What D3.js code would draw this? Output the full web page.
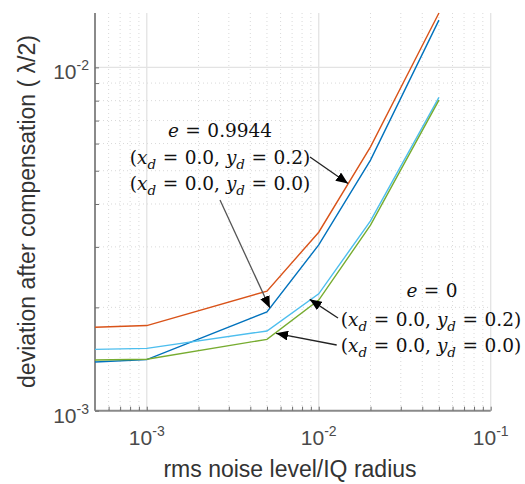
<!DOCTYPE html>
<html>
<head>
<meta charset="utf-8">
<script src="https://cdn.jsdelivr.net/npm/d3@7"></script>
<style>
  html, body { margin: 0; padding: 0; background: #fff; }
  svg { display: block; }
  text { white-space: pre; }
</style>
</head>
<body>
<svg id="chart" width="525" height="484"></svg>
<script>
// rms noise level / IQ radius (x) and residual deviation in units of lambda/2 (y)
const noise = [5e-4, 1e-3, 5e-3, 1e-2, 2e-2, 5e-2];
const devEccY02 = [1.75e-3, 1.77e-3, 2.23e-3, 3.31e-3, 5.87e-3, 1.44e-2];   // e = 0.9944, yd = 0.2
const devEccY00 = [1.386e-3, 1.408e-3, 1.94e-3, 3.04e-3, 5.37e-3, 1.373e-2]; // e = 0.9944, yd = 0.0
const devCircY02 = [1.509e-3, 1.519e-3, 1.707e-3, 2.19e-3, 3.57e-3, 8.18e-3]; // e = 0, yd = 0.2
const devCircY00 = [1.405e-3, 1.412e-3, 1.614e-3, 2.10e-3, 3.47e-3, 8.03e-3]; // e = 0, yd = 0.0

const xMajorTicks = [1e-3, 1e-2, 1e-1];
const xTickExponents = ["-3", "-2", "-1"];
const yMajorTicks = [1e-3, 1e-2];
const yTickExponents = ["-3", "-2"];

const xLabel = "rms noise level/IQ radius";
const yLabel = "deviation after compensation ( \u03bb/2)";

// arrow tips (data coordinates) for the callouts
const arrowTips = [
  [0.0148, 4.59e-3],
  [5.2e-3, 1.99e-3],
  [8.86e-3, 2.11e-3],
  [5.65e-3, 1.68e-3]
];

const series = [
  { values: devEccY02, color: "#D95319" },
  { values: devEccY00, color: "#0072BD" },
  { values: devCircY02, color: "#4DBEEE" },
  { values: devCircY00, color: "#77AC30" }
];

const plotLeft = 95, plotRight = 490.7, plotTop = 13, plotBottom = 410.7;
const x = d3.scaleLog().domain([5e-4, 1e-1]).range([plotLeft, plotRight]);
const y = d3.scaleLog().domain([1e-3, 0.0144]).range([plotBottom, plotTop]);

const svg = d3.select("#chart");

// minor/major positions
const xMinor = [];
[1e-4, 1e-3, 1e-2].forEach(dec => { for (let k = 2; k <= 9; k++) { const v = dec * k; if (v >= 5e-4 && v <= 1e-1) xMinor.push(v); } });
const yMinor = [];
[1e-3, 1e-2].forEach(dec => { for (let k = 2; k <= 9; k++) { const v = dec * k; if (v <= 0.0144) yMinor.push(v); } });

// grid
const grid = svg.append("g");
grid.selectAll(".gxm").data(xMinor).join("line")
  .attr("x1", d => x(d)).attr("x2", d => x(d)).attr("y1", plotTop).attr("y2", plotBottom)
  .attr("stroke", "#d9d9d9").attr("stroke-width", 1).attr("stroke-dasharray", "1,3");
grid.selectAll(".gym").data(yMinor).join("line")
  .attr("y1", d => y(d)).attr("y2", d => y(d)).attr("x1", plotLeft).attr("x2", plotRight)
  .attr("stroke", "#d9d9d9").attr("stroke-width", 1).attr("stroke-dasharray", "1,3");
grid.selectAll(".gxM").data(xMajorTicks).join("line")
  .attr("x1", d => x(d)).attr("x2", d => x(d)).attr("y1", plotTop).attr("y2", plotBottom)
  .attr("stroke", "#e3e3e3").attr("stroke-width", 1.3);
grid.selectAll(".gyM").data(yMajorTicks.filter(v => v > 1e-3)).join("line")
  .attr("y1", d => y(d)).attr("y2", d => y(d)).attr("x1", plotLeft).attr("x2", plotRight)
  .attr("stroke", "#e3e3e3").attr("stroke-width", 1.3);

// axes (log scales, inward ticks)
const xAxis = d3.axisTop(x).tickValues(xMinor.concat(xMajorTicks)).tickSize(4).tickFormat("");
const yAxis = d3.axisRight(y).tickValues(yMinor.concat(yMajorTicks)).tickSize(4).tickFormat("");
const gx = svg.append("g").attr("transform", `translate(0,${plotBottom})`).call(xAxis);
const gy = svg.append("g").attr("transform", `translate(${plotLeft},0)`).call(yAxis);
[gx, gy].forEach(g => {
  g.select(".domain").attr("stroke", "#8a8a8a").attr("stroke-width", 2);
  g.selectAll(".tick line").attr("stroke", "#6e6e6e").attr("stroke-width", 1);
});
gx.select(".domain").attr("d", `M${plotLeft},0H${plotRight}`);
gy.select(".domain").attr("d", `M0,${plotTop}V${plotBottom}`);

// tick labels: 10^n
const tickFont = "'Liberation Sans', Arial, sans-serif";
xMajorTicks.forEach((v, i) => {
  const t = svg.append("text").attr("x", x(v)).attr("y", plotBottom + 34)
    .attr("text-anchor", "middle").attr("font-family", tickFont).attr("font-size", 21).attr("fill", "#4a4a4a");
  t.append("tspan").text("10");
  t.append("tspan").attr("dy", -9).attr("font-size", 14).text(xTickExponents[i]);
});
yMajorTicks.forEach((v, i) => {
  const t = svg.append("text").attr("x", plotLeft - 6).attr("y", y(v) + 12)
    .attr("text-anchor", "end").attr("font-family", tickFont).attr("font-size", 21).attr("fill", "#4a4a4a");
  t.append("tspan").text("10");
  t.append("tspan").attr("dy", -9).attr("font-size", 14).text(yTickExponents[i]);
});

// axis titles
svg.append("text").attr("x", 290).attr("y", 477).attr("text-anchor", "middle")
  .attr("font-family", tickFont).attr("font-size", 23).attr("fill", "#333").text(xLabel);
svg.append("text").attr("transform", "translate(35,211.5) rotate(-90)").attr("text-anchor", "middle")
  .attr("font-family", tickFont).attr("font-size", 23).attr("fill", "#333").text(yLabel);

// data lines
const line = d3.line().x((d, i) => x(noise[i])).y(d => y(d));
svg.append("g").selectAll("path").data(series).join("path")
  .attr("d", d => line(d.values)).attr("fill", "none")
  .attr("stroke", d => d.color).attr("stroke-width", 1.4);

// callout text (math-style: italic symbols, subscripts, spaced relations)
const mathFont = "'DejaVu Serif', 'Liberation Serif', serif";
const relGap = 6.5;
function mathLine(cx, baseline, parts) {
  const t = svg.append("text").attr("x", cx).attr("y", baseline).attr("text-anchor", "middle")
    .attr("font-family", mathFont).attr("font-size", 18.5).attr("fill", "#111");
  parts.forEach(p => {
    const s = t.append("tspan").text(p.t);
    if (p.i) s.attr("font-style", "italic");
    if (p.sub) s.attr("dy", 5).attr("font-size", 13.5);
    if (p.up) s.attr("dy", -5);
    if (p.gap) s.attr("dx", relGap);
  });
  return t;
}
function coordLine(cx, baseline, ydVal) {
  return mathLine(cx, baseline, [
    { t: "(" }, { t: "x", i: true }, { t: "d", i: true, sub: true },
    { t: "=", up: true, gap: true }, { t: "0.0, ", gap: true },
    { t: "y", i: true }, { t: "d", i: true, sub: true },
    { t: "=", up: true, gap: true }, { t: ydVal + ")", gap: true }
  ]);
}
mathLine(220, 137, [{ t: "e", i: true }, { t: "=", gap: true }, { t: "0.9944", gap: true }]);
coordLine(220, 164, "0.2");
coordLine(220, 190, "0.0");
mathLine(432, 297, [{ t: "e", i: true }, { t: "=", gap: true }, { t: "0", gap: true }]);
coordLine(431, 326, "0.2");
coordLine(431, 352, "0.0");

// arrows
const defs = svg.append("defs");
defs.append("marker").attr("id", "head").attr("viewBox", "0 0 12 10")
  .attr("refX", 12).attr("refY", 5).attr("markerWidth", 12).attr("markerHeight", 10)
  .attr("markerUnits", "userSpaceOnUse").attr("orient", "auto")
  .append("path").attr("d", "M0,0L12,5L0,10Z").attr("fill", "#000");
const arrowStarts = [[310, 157], [220, 200], [338, 318], [336.7, 345]];
svg.append("g").selectAll("line").data(arrowTips).join("line")
  .attr("x1", (d, i) => arrowStarts[i][0]).attr("y1", (d, i) => arrowStarts[i][1])
  .attr("x2", d => x(d[0])).attr("y2", d => y(d[1]))
  .attr("stroke", (d, i) => i === 1 ? "#555" : "#222").attr("stroke-width", 1.3)
  .attr("marker-end", "url(#head)");
</script>
</body>
</html>
